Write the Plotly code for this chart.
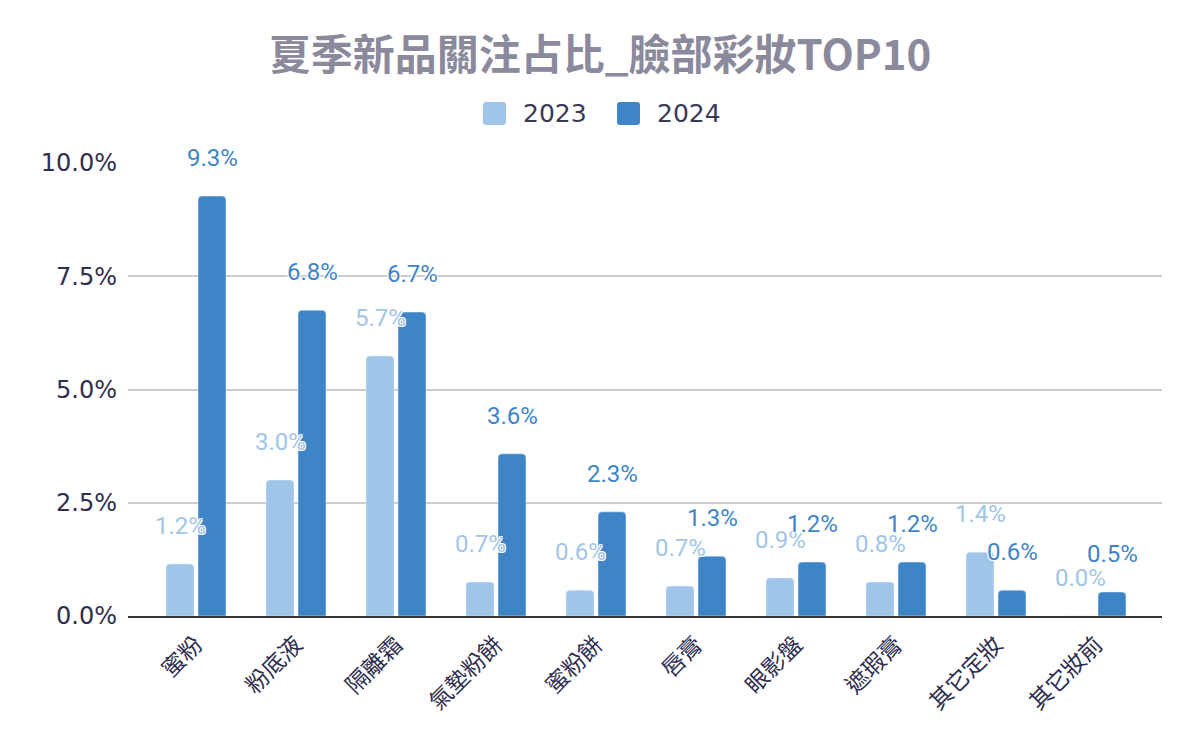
import plotly.graph_objects as go

categories = ["蜜粉", "粉底液", "隔離霜", "氣墊粉餅", "蜜粉餅", "唇膏", "眼影盤", "遮瑕膏", "其它定妝", "其它妝前"]
values_2023 = [1.15, 3.0, 5.74, 0.75, 0.57, 0.66, 0.84, 0.75, 1.41, 0.0]
values_2024 = [9.27, 6.75, 6.71, 3.58, 2.30, 1.32, 1.19, 1.19, 0.57, 0.53]
labels_2023 = ["1.2%", "3.0%", "5.7%", "0.7%", "0.6%", "0.7%", "0.9%", "0.8%", "1.4%", "0.0%"]
labels_2024 = ["9.3%", "6.8%", "6.7%", "3.6%", "2.3%", "1.3%", "1.2%", "1.2%", "0.6%", "0.5%"]
series_names = ["2023", "2024"]
tick_vals = [0, 2.5, 5.0, 7.5, 10.0]
tick_text = ["0.0%", "2.5%", "5.0%", "7.5%", "10.0%"]

c23 = "#9fc5e8"
c24 = "#3d85c6"
text_dark = "#2f2e50"

W, H = 1200, 742
ML, MR, MT, MB = 128, 38, 163, 126
bargap = 0.36
bargroupgap = 0.125


def px_x(p):
    return (p - ML) / (W - ML - MR)


def px_y(p):
    return (H - MB - p) / (H - MT - MB)


fig = go.Figure()
fig.add_trace(go.Bar(name=series_names[0], x=categories, y=values_2023,
                     marker=dict(color=c23, cornerradius=4), hoverinfo="skip"))
fig.add_trace(go.Bar(name=series_names[1], x=categories, y=values_2024,
                     marker=dict(color=c24, cornerradius=4), hoverinfo="skip"))

slot = (1 - bargap) / 2
shadow = "1px 1px 0 #fff, -1px -1px 0 #fff, 1px -1px 0 #fff, -1px 1px 0 #fff"
annotations = []
for i in range(len(categories)):
    for vals, labs, col, off in ((values_2023, labels_2023, c23, -slot / 2),
                                 (values_2024, labels_2024, c24, slot / 2)):
        annotations.append(dict(x=i + off, y=vals[i], xref="x", yref="y",
                                text=labs[i], showarrow=False, yshift=38,
                                yanchor="middle", xanchor="center",
                                font=dict(family="Roboto", size=24, color=col, shadow=shadow)))

# custom legend (large rounded swatches)
shapes = []
r, h = 3, 11.5
rpath = (f"M {-h+r},{-h} L {h-r},{-h} Q {h},{-h} {h},{-h+r} L {h},{h-r} Q {h},{h} {h-r},{h} "
         f"L {-h+r},{h} Q {-h},{h} {-h},{h-r} L {-h},{-h+r} Q {-h},{-h} {-h+r},{-h} Z")
leg_y = px_y(113.5)
for name, col, sx, tx in ((series_names[0], c23, 494.5, 521), (series_names[1], c24, 628.5, 655)):
    shapes.append(dict(type="path", xref="paper", yref="paper", xsizemode="pixel", ysizemode="pixel",
                       xanchor=px_x(sx), yanchor=leg_y, path=rpath, fillcolor=col, line=dict(width=0)))
    annotations.append(dict(x=px_x(tx), y=leg_y, xref="paper", yref="paper", text=name,
                            showarrow=False, xanchor="left", yanchor="middle",
                            font=dict(family="DejaVu Sans", size=25, color="#3a3958")))

fig.update_layout(
    width=W, height=H,
    paper_bgcolor="white", plot_bgcolor="white",
    barmode="group", bargap=bargap, bargroupgap=bargroupgap,
    margin=dict(l=ML, r=MR, t=MT, b=MB),
    title=dict(text="<b>夏季新品關注占比_臉部彩妝TOP10</b>", x=0.5, xanchor="center",
               y=0.925, yanchor="middle",
               font=dict(family="Noto Sans CJK TC", size=42, color="#8b899c")),
    showlegend=False,
    annotations=annotations,
    shapes=shapes,
)
fig.update_xaxes(type="category", range=[-0.68, 9.66], tickangle=-45,
                 tickfont=dict(family="Noto Sans CJK TC", size=23, color=text_dark),
                 showline=True, linecolor="#333333", linewidth=2, ticks="",
                 ticklabelstandoff=4, showgrid=False, fixedrange=True)
fig.update_yaxes(range=[0, 10], tickmode="array", tickvals=tick_vals, ticktext=tick_text,
                 tickfont=dict(family="DejaVu Sans", size=24, color=text_dark),
                 showgrid=True, gridcolor="#cccccc", gridwidth=1.5, zeroline=False,
                 ticklabelstandoff=10, fixedrange=True)

fig.write_html("out.html", config={"displayModeBar": False},
               post_script="document.body.style.margin='0';")
